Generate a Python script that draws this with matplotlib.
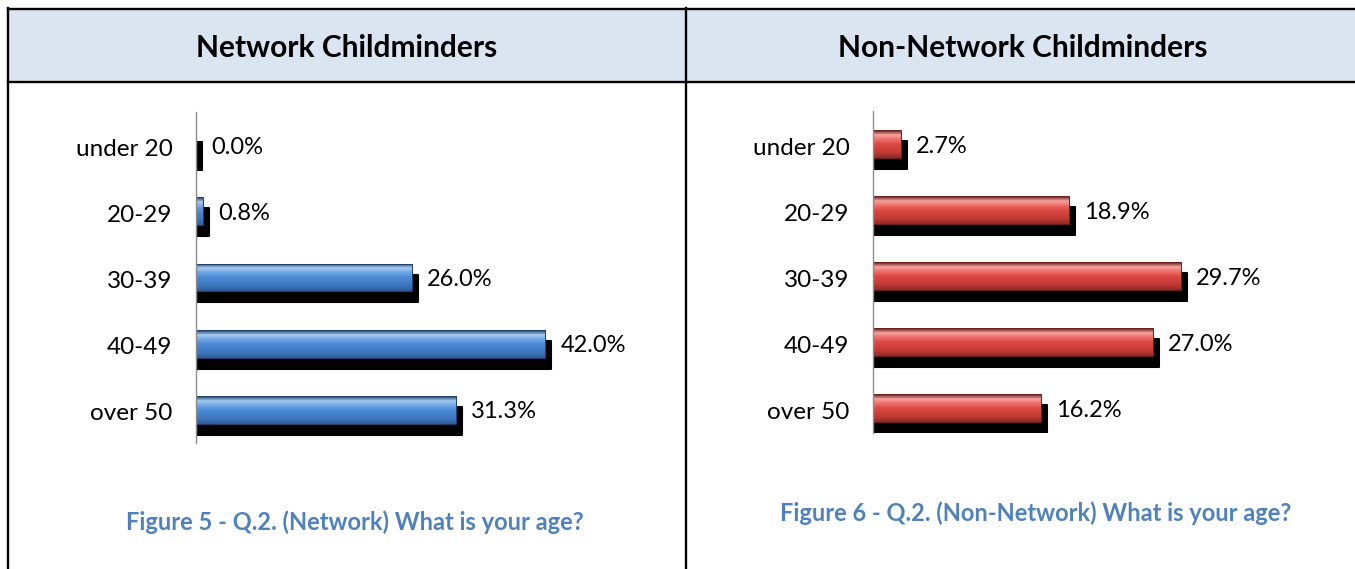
import matplotlib
matplotlib.use("Agg")
import matplotlib.pyplot as plt
import matplotlib.transforms as mtransforms
from matplotlib.colors import LinearSegmentedColormap
from matplotlib.lines import Line2D
from matplotlib.patches import Rectangle
import numpy as np

plt.rcParams['font.family'] = ['Lato', 'DejaVu Sans']

# data
age_groups = ["under 20", "20-29", "30-39", "40-49", "over 50"]
network_pct = [0.0, 0.8, 26.0, 42.0, 31.3]
non_network_pct = [2.7, 18.9, 29.7, 27.0, 16.2]

panel_titles = ["Network Childminders", "Non-Network Childminders"]
captions = ["Figure 5 - Q.2. (Network) What is your age?",
            "Figure 6 - Q.2. (Non-Network) What is your age?"]

W, H = 1355, 569
fig = plt.figure(figsize=(W / 100, H / 100), dpi=100)


def fx(px):
    return px / W


def fy(py):
    return 1 - py / H


# table frame with shaded header row
fig.add_artist(Rectangle((fx(8), fy(82)), fx(W - 8), (74 / H), transform=fig.transFigure,
                         facecolor="#dbe5f1", edgecolor="none", zorder=0))
line_kw = dict(transform=fig.transFigure, color="black", lw=1.7, zorder=1)
fig.add_artist(Line2D([fx(8), 1], [fy(8.5), fy(8.5)], **line_kw))
fig.add_artist(Line2D([fx(8), 1], [fy(81.5), fy(81.5)], **line_kw))
fig.add_artist(Line2D([fx(8), fx(8)], [fy(8), 0], **line_kw))
fig.add_artist(Line2D([fx(686), fx(686)], [fy(8), 0], **line_kw))

fig.text(fx(347), fy(48), panel_titles[0], ha="center", va="center",
         fontsize=21.5, fontweight="bold", color="black")
fig.text(fx(1023), fy(48), panel_titles[1], ha="center", va="center",
         fontsize=21.5, fontweight="bold", color="black")

fig.text(fx(355), fy(522), captions[0], ha="center", va="center",
         fontsize=17, fontweight="bold", color="#4f81bd")
fig.text(fx(1036), fy(513), captions[1], ha="center", va="center",
         fontsize=17, fontweight="bold", color="#4f81bd")

blue_grad = ["#1c3a66", "#a8cbf2", "#6ea6e6", "#4d8cd6", "#437fc9", "#3b74bb", "#2c5c98"]
red_grad = ["#5a1815", "#f7a3a0", "#ee6e69", "#dd4a45", "#cf403b", "#bd3935", "#8f2a27"]

BAR_H = 0.42


def draw_panel(ax, values, grad, edge, xmax, ylim, px_per_unit):
    y = np.arange(len(age_groups))

    # drop shadow: same bars shifted right/down, starting flush with the axis
    pad = 6 / px_per_unit
    shadow_tr = mtransforms.offset_copy(ax.transData, fig=fig, x=6, y=-11, units="dots")
    ax.barh(y, [v + pad for v in values], left=-pad, height=BAR_H, color="black",
            edgecolor="black", lw=1.5, joinstyle="round", transform=shadow_tr, zorder=1)

    bars = ax.barh(y, values, height=BAR_H, color=grad[4], edgecolor="none", zorder=2)
    cmap = LinearSegmentedColormap.from_list("bevel", grad)
    shade = np.linspace(0, 1, 64).reshape(-1, 1)
    for b in bars:
        x0, y0, w, h = b.get_x(), b.get_y(), b.get_width(), b.get_height()
        if w <= 0:
            continue
        im = ax.imshow(shade, cmap=cmap, aspect="auto", origin="upper",
                       extent=(x0, x0 + w, y0 + h, y0), zorder=3)
        im.set_clip_path(b)
    ax.barh(y, values, height=BAR_H, fill=False, edgecolor=edge, lw=0.7, zorder=4)

    for yi, v in zip(y, values):
        ax.annotate(f"{v:.1f}%", (v, yi), xytext=(11, -1.5), textcoords="offset points",
                    va="center", ha="left", fontsize=17, color="black")

    ax.set_xlim(0, xmax)
    ax.set_ylim(*ylim)
    ax.set_yticks(y)
    ax.set_yticklabels(age_groups, fontsize=17.5)
    ax.tick_params(axis="y", length=0, pad=17)
    # nudge tick labels down slightly to sit level with the bars
    nudge = mtransforms.ScaledTranslation(0, -1.5 / 72, fig.dpi_scale_trans)
    for lbl in ax.get_yticklabels():
        lbl.set_transform(lbl.get_transform() + nudge)
    ax.set_xticks([])
    for s in ["top", "right", "bottom"]:
        ax.spines[s].set_visible(False)
    ax.spines["left"].set_color("#8c8c8c")
    ax.spines["left"].set_linewidth(1.0)
    ax.spines["left"].set_zorder(5)
    ax.patch.set_alpha(0)


# left panel: axis at x=196, y from 112 to 443
ax1 = fig.add_axes([fx(196), fy(443), 45 * 8.31 / W, 331 / H])
draw_panel(ax1, network_pct, blue_grad, "#1f3f6e", 45, (4.5, -0.5), 8.31)

# right panel: axis at x=873, y from 111 to 433
ax2 = fig.add_axes([fx(873), fy(433), 35 * 10.36 / W, 322 / H])
draw_panel(ax2, non_network_pct, red_grad, "#6e1f1c", 35, (4.38, -0.5), 10.36)

fig.savefig("out.png", dpi=100)
